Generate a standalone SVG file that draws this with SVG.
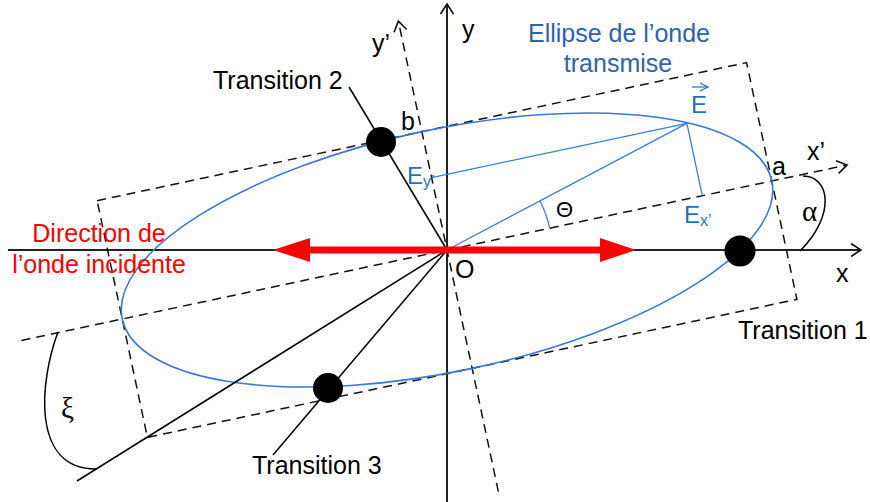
<svg xmlns="http://www.w3.org/2000/svg" width="870" height="502" viewBox="0 0 870 502">
<defs>
<style>
.ax{stroke:#222;stroke-width:2;fill:none}
.da{stroke:#111;stroke-width:1.5;fill:none;stroke-dasharray:9,6}
.ln{stroke:#000;stroke-width:1.5;fill:none}
.bl{stroke:#3a7dd2;stroke-width:1.3;fill:none}
.t{font-family:"Liberation Sans",Arial,sans-serif;font-size:25px;fill:#000}
.tb{font-family:"Liberation Sans",Arial,sans-serif;fill:#1d72c4}
.g{font-family:"Liberation Serif","Times New Roman",serif;font-size:29px;fill:#000}
.dot{fill:#000}
</style>
<marker id="ch" markerUnits="userSpaceOnUse" markerWidth="14" markerHeight="16" refX="11" refY="8" orient="auto">
<path d="M1,1.5 L11,8 L1,14.5" fill="none" stroke="#111" stroke-width="1.6"/>
</marker>
<marker id="chb" markerUnits="userSpaceOnUse" markerWidth="12" markerHeight="12" refX="9" refY="6" orient="auto">
<path d="M1,2 L9,6 L1,10" fill="none" stroke="#1d72c4" stroke-width="1.2"/>
</marker>
</defs>
<rect width="870" height="502" fill="#fff"/>

<g id="axes">
<line class="ax" x1="8" y1="250" x2="861" y2="250" marker-end="url(#ch)"/>
<line class="ax" x1="447" y1="502" x2="447" y2="4" marker-end="url(#ch)"/>
</g>

<g id="rotated" transform="translate(447,250) rotate(-12)">
<line class="da" x1="-435" y1="0" x2="409" y2="0" marker-end="url(#ch)"/>
<line class="da" x1="0" y1="247" x2="0" y2="-234" marker-end="url(#ch)"/>
<rect class="da" x="-332" y="-121" width="664" height="242"/>
<ellipse id="ellipse" cx="0" cy="0" rx="332" ry="121" fill="none" stroke="#3a78d4" stroke-width="1.6"/>
<line class="bl" x1="0" y1="0" x2="261" y2="-74"/>
<line class="bl" x1="261" y1="-74" x2="261" y2="0"/>
<line class="bl" x1="261" y1="-74" x2="0" y2="-74"/>
</g>

<g id="connectors">
<line class="ln" x1="447" y1="250" x2="349" y2="87"/>
<line class="ln" x1="447" y1="250" x2="273" y2="455"/>
<line class="ln" x1="447" y1="250" x2="77" y2="481"/>
<path class="bl" d="M549.7,228.2 A105,105 0 0 0 539.9,201"/>
<path class="ln" d="M803,176 C830,176 836,215 800,251"/>
<path class="ln" d="M58,332 C40,380 30,470 97,469"/>
<g id="red-arrow" fill="#ff0000">
<rect x="305" y="246.5" width="300" height="7"/>
<polygon points="636,250 600,238 600,262"/>
<polygon points="273,250 310,238 310,262"/>
</g>
</g>

<g id="transition2"><circle class="dot" cx="381" cy="142" r="15"/><text class="t" x="213" y="89">Transition 2</text></g>
<g id="transition1"><circle class="dot" cx="740" cy="251" r="15.5"/><text class="t" x="738" y="339">Transition 1</text></g>
<g id="transition3"><circle class="dot" cx="328" cy="388" r="15"/><text class="t" x="252" y="474">Transition 3</text></g>

<g id="labels">
<text class="t" x="462" y="38">y</text>
<text class="t" x="372" y="52">y’</text>
<text class="t" x="807" y="160">x’</text>
<text class="t" x="836" y="282">x</text>
<text class="t" x="455" y="278">O</text>
<text class="t" x="401" y="130">b</text>
<text class="t" x="772" y="175">a</text>
<text class="t" x="556" y="217" style="font-size:22px">Θ</text>
<text class="g" x="802" y="221">α</text>
<text class="g" x="61" y="418">ξ</text>
</g>

<g id="title" font-family="'Liberation Sans',Arial,sans-serif" font-size="25" fill="#2f62ad" text-anchor="middle">
<text x="619" y="42">Ellipse de l’onde</text>
<text x="618" y="72">transmise</text>
</g>

<g id="incident" font-family="'Liberation Sans',Arial,sans-serif" font-size="25" fill="#ff0000" text-anchor="middle">
<text x="99" y="242">Direction de</text>
<text x="99" y="273">l’onde incidente</text>
</g>

<g id="E-labels">
<text class="tb" x="691" y="113" font-size="24">E</text>
<line x1="692" y1="87" x2="708" y2="87" stroke="#1d72c4" stroke-width="1.2" marker-end="url(#chb)"/>
<text class="tb" x="684" y="223" font-size="24">E<tspan font-size="16" dy="3">x’</tspan></text>
<text class="tb" x="407" y="184" font-size="24">E<tspan font-size="16" dy="3">y’</tspan></text>
</g>
</svg>
